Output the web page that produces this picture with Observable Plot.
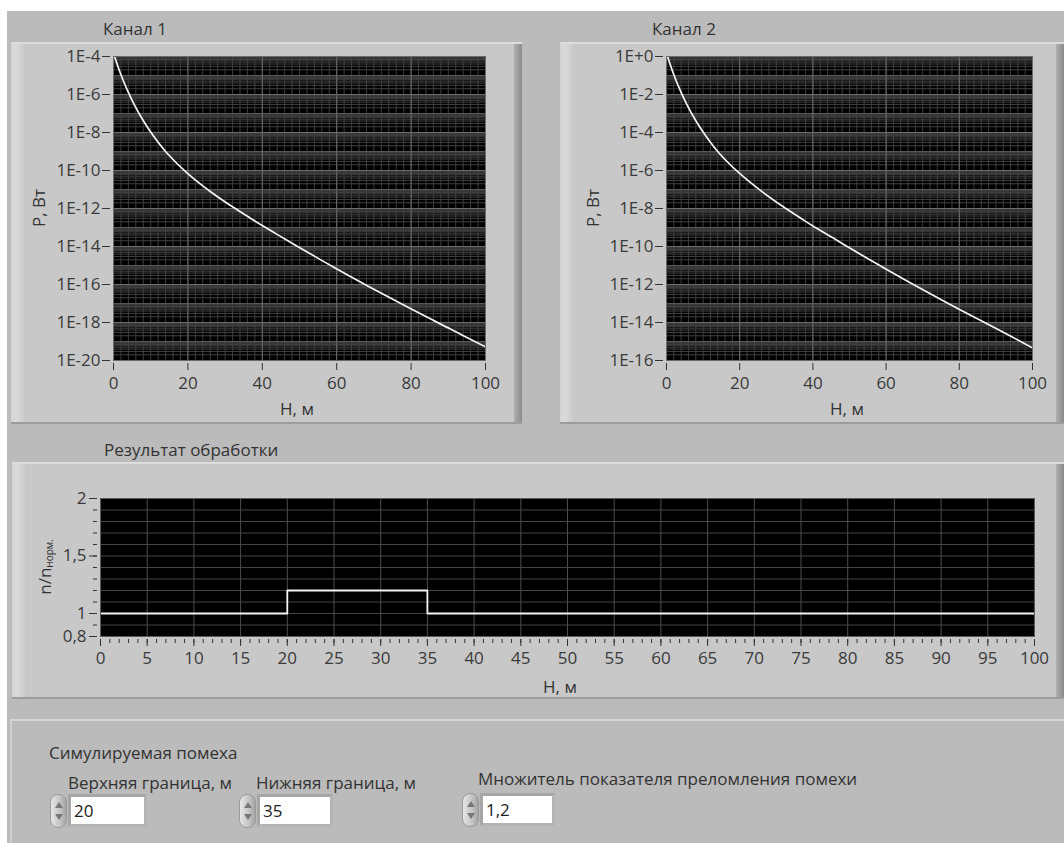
<!DOCTYPE html>
<html><head><meta charset="utf-8">
<script src="https://cdn.jsdelivr.net/npm/d3@7"></script>
<script src="https://cdn.jsdelivr.net/npm/@observablehq/plot@0.6"></script>
<style>
body{margin:0;background:#fff;}
#root{position:relative;width:1064px;height:843px;background:#fff;overflow:hidden;font-family:"Open Sans",sans-serif;color:#333;}
.bg{position:absolute;left:7px;top:11px;right:0;bottom:0;background:#bbbbbb;}
.panel{position:absolute;background:#c8c8c8;box-sizing:border-box;border-top:2px solid #dcdcdc;border-bottom:2px solid #9c9c9c;}
.panel .lb{position:absolute;left:0;top:0;bottom:0;width:13px;background:linear-gradient(to right,#d4d4d4,#dadada 40%,#cbcbcb);}
.panel .rb{position:absolute;right:0;top:0;bottom:0;width:8px;background:linear-gradient(to right,#b0b0b0,#8a8a8a);}
.frame2{position:absolute;left:10px;top:719px;right:0;bottom:0;border-top:2px solid #d6d6d6;border-left:2px solid #d0d0d0;box-sizing:border-box;}
.lbl{position:absolute;white-space:nowrap;font-size:17px;line-height:1;transform:translateY(-50%);color:#333;}
.rot{position:absolute;white-space:nowrap;font-size:17px;line-height:1;transform:translate(-50%,-50%) rotate(-90deg);color:#333;}
.rot sub{font-size:10px;vertical-align:-2px;}
.chart{position:absolute;}
.spin{position:absolute;width:17px;height:34px;box-sizing:border-box;border-radius:8px;border:1px solid #9a9a9a;background:linear-gradient(to right,#e6e6e6,#c4c4c4 60%,#a4a4a4);}
.spin .u,.spin .d{position:absolute;left:4px;width:0;height:0;border-left:4px solid transparent;border-right:4px solid transparent;}
.spin .u{top:7px;border-bottom:6px solid #777;}
.spin .d{bottom:7px;border-top:6px solid #777;}
.box{position:absolute;box-sizing:border-box;background:#fff;border:3px solid #a6a6a6;border-right-color:#b4b4b4;border-bottom-color:#b4b4b4;font-size:17px;color:#222;padding-left:3px;line-height:27px;}
</style></head>
<body><div id="root">
<div class="bg"></div>
<div class="panel" style="left:11px;top:42px;width:511px;height:382px"><div class="lb"></div><div class="rb"></div></div>
<div class="panel" style="left:560px;top:42px;width:504px;height:382px"><div class="lb"></div><div class="rb"></div></div>
<div class="panel" style="left:12px;top:462px;width:1052px;height:237px"><div class="lb"></div><div class="rb"></div></div>
<div class="frame2"></div>
<div id="c1" class="chart" style="left:11px;top:42px"></div>
<div id="c2" class="chart" style="left:560px;top:42px"></div>
<div id="c3" class="chart" style="left:12px;top:462px"></div>
<div class="lbl" style="left:103px;top:28px">Канал 1</div>
<div class="lbl" style="left:652px;top:28px">Канал 2</div>
<div class="lbl" style="left:104px;top:449px">Результат обработки</div>
<div class="rot" style="left:38px;top:208px">P, Вт</div>
<div class="rot" style="left:592px;top:208px">P, Вт</div>
<div class="lbl" style="left:297px;top:408px;transform:translate(-50%,-50%)">H, м</div>
<div class="lbl" style="left:847px;top:408px;transform:translate(-50%,-50%)">H, м</div>
<div class="lbl" style="left:560px;top:686px;transform:translate(-50%,-50%)">H, м</div>
<div class="rot" style="left:45px;top:567px">n/n<sub>норм.</sub></div>
<div class="lbl" style="left:49px;top:752px">Симулируемая помеха</div>
<div class="lbl" style="left:68px;top:782px">Верхняя граница, м</div>
<div class="lbl" style="left:256px;top:782px">Нижняя граница, м</div>
<div class="lbl" style="left:478px;top:778px">Множитель показателя преломления помехи</div>
<div class="spin" style="left:50px;top:794px"><div class="u"></div><div class="d"></div></div>
<div class="box" style="left:68px;top:794px;width:79px;height:33px">20</div>
<div class="spin" style="left:239px;top:794px"><div class="u"></div><div class="d"></div></div>
<div class="box" style="left:257px;top:794px;width:76px;height:33px">35</div>
<div class="spin" style="left:462px;top:793px"><div class="u"></div><div class="d"></div></div>
<div class="box" style="left:480px;top:793px;width:75px;height:33px">1,2</div>
</div>
<script>
// ---- data ----
const depth = [0.3, 1.8, 3.6, 5.4, 8.1, 10.8, 14.4, 19.9, 26.0, 32.3, 36.8, 40, 45.7, 50.2, 59.8, 68.2, 79.8, 90.6, 100];
const powerCh1 = [1.0e-4, 1.4e-5, 1.9e-6, 3.4e-7, 3.9e-8, 6.3e-9, 8.1e-10, 7.1e-11, 7.9e-12, 1.12e-12, 3.1e-13, 1.26e-13, 2.75e-14, 8.3e-15, 7.0e-16, 8.7e-17, 5.4e-18, 4.5e-19, 5.2e-20];
const powerCh2 = [1.0e0, 1.4e-1, 1.9e-2, 3.4e-3, 3.9e-4, 6.3e-5, 8.1e-6, 7.2e-7, 8.0e-8, 1.1e-8, 3.0e-9, 1.2e-9, 2.7e-10, 8.0e-11, 6.8e-12, 8.4e-13, 5.2e-14, 4.3e-15, 4.6e-16];
const yDomainCh1 = [1e-20, 1e-4];
const yDomainCh2 = [1e-16, 1e0];
const yTicksCh1 = [1e-4, 1e-6, 1e-8, 1e-10, 1e-12, 1e-14, 1e-16, 1e-18, 1e-20];
const yTicksCh2 = [1e0, 1e-2, 1e-4, 1e-6, 1e-8, 1e-10, 1e-12, 1e-14, 1e-16];
const xTicksTop = [0, 20, 40, 60, 80, 100];
const resultH = [0, 20, 35, 100];
const resultN = [1, 1.2, 1, 1];
const xTicksResult = [0,5,10,15,20,25,30,35,40,45,50,55,60,65,70,75,80,85,90,95,100];
const yTicksResult = [0.8, 1, 1.5, 2];
const yTickLabelsResult = ["0,8", "1", "1,5", "2"];

const font = {background: "transparent", fontFamily: "Open Sans, sans-serif", fontSize: "17px", color: "#3a3a3a"};

function expFmt(d) {
  const e = Math.round(Math.log10(d));
  return "1E" + (e >= 0 ? "+" : "-") + Math.abs(e);
}

function logChart(P, yDomain, yTicks, width) {
  const e0 = Math.round(Math.log10(yDomain[0])), e1 = Math.round(Math.log10(yDomain[1]));
  const minor = [], decades = [];
  for (let e = e0; e < e1; e++) {
    decades.push(10 ** e);
    for (let k = 2; k <= 9; k++) minor.push(k * 10 ** e);
  }
  const rows = depth.map((h, i) => ({h, p: P[i]}));
  return Plot.plot({
    width, height: 382,
    marginLeft: width === 511 ? 102 : 106, marginRight: width === 511 ? 37 : 32,
    marginTop: 14, marginBottom: 64,
    x: {domain: [0, 100]},
    y: {type: "log", domain: yDomain},
    style: font,
    marks: [
      Plot.frame({fill: "black", stroke: null}),
      Plot.ruleX(d3.range(0, 101, 2), {stroke: "#3c3c3c", strokeWidth: 1}),
      Plot.ruleY(minor, {stroke: "#404040", strokeWidth: 1}),
      Plot.ruleY(decades, {stroke: "#585858", strokeWidth: 1}),
      Plot.ruleY(yTicks, {stroke: "#6c6c6c", strokeWidth: 1}),
      Plot.ruleX(xTicksTop, {stroke: "#6c6c6c", strokeWidth: 1}),
      Plot.line(rows, {x: "h", y: "p", stroke: "#f4f4f4", strokeWidth: 1.7, curve: "catmull-rom", clip: true}),
      Plot.frame({stroke: "#6a6a6a"}),
      Plot.axisY({ticks: yTicks, tickFormat: expFmt, tickSize: 8, tickPadding: 2, dx: -3, label: null, stroke: "#333"}),
      Plot.axisX({ticks: xTicksTop, tickFormat: d => String(d), tickSize: 7, tickPadding: 6, dy: 3, label: null, stroke: "#333"})
    ]
  });
}

document.getElementById("c1").append(logChart(powerCh1, yDomainCh1, yTicksCh1, 511));
document.getElementById("c2").append(logChart(powerCh2, yDomainCh2, yTicksCh2, 504));

const stepRows = resultH.map((h, i) => ({h, n: resultN[i]}));
const gridY = d3.range(8, 21).map(v => v / 10);
const minorX = d3.range(0, 101);
document.getElementById("c3").append(Plot.plot({
  width: 1052, height: 237,
  marginLeft: 88, marginRight: 30, marginTop: 36, marginBottom: 63,
  x: {domain: [0, 100]},
  y: {domain: [0.8, 2]},
  style: font,
  marks: [
    Plot.frame({fill: "black", stroke: null}),
    Plot.ruleY(gridY, {stroke: "#454545"}),
    Plot.ruleX(xTicksResult, {stroke: "#4d4d4d"}),
    Plot.line(stepRows, {x: "h", y: "n", curve: "step-after", stroke: "#f4f4f4", strokeWidth: 1.8}),
    Plot.frame({stroke: "#5a5a5a"}),
    Plot.axisY({ticks: gridY, tickFormat: () => "", tickSize: 4, dx: -3, label: null, stroke: "#333"}),
    Plot.axisY({ticks: yTicksResult, tickFormat: d => yTickLabelsResult[yTicksResult.indexOf(d)], tickSize: 8, tickPadding: 3, dx: -3, label: null, stroke: "#333"}),
    Plot.axisX({ticks: minorX, tickFormat: () => "", tickSize: 4, dy: 3, label: null, stroke: "#333"}),
    Plot.axisX({ticks: xTicksResult, tickFormat: d => String(d), tickSize: 7, tickPadding: 5, dy: 3, label: null, stroke: "#333"})
  ]
}));
</script>
</body></html>
